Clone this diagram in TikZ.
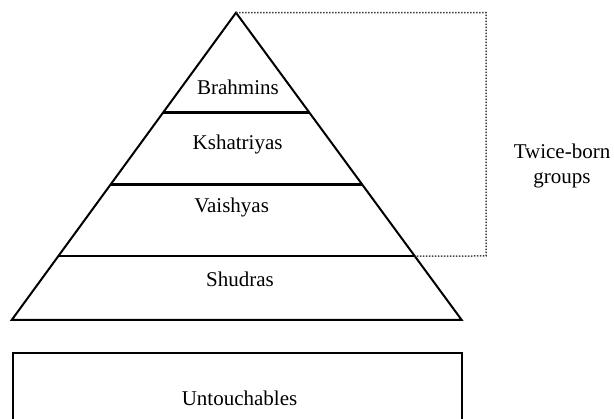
\documentclass[tikz,border=0pt]{standalone}
\usepackage{fontspec}
\setmainfont{Liberation Serif}
\usetikzlibrary{calc}
\begin{document}
\begin{tikzpicture}[x=1pt,y=-1pt,
  label/.style={inner sep=0pt,font=\fontsize{21}{24.4}\selectfont},
  edge/.style={line width=2pt,line join=miter},
  divider/.style={line width=3pt},
  thindivider/.style={line width=2pt},
  group/.style={draw=black!75,line width=1.5pt,dash pattern=on 1.5pt off 1.5pt}]
\useasboundingbox (0,0) rectangle (614,419);
% pyramid
\coordinate (apex) at (236,12.7);
\coordinate (bl) at (11.7,320);
\coordinate (br) at (461.7,320);
\draw[edge] (apex) -- (bl) -- (br) -- cycle;
% layer dividers
\coordinate (d1l) at ($(apex)!0.324!(bl)$);
\coordinate (d1r) at ($(apex)!0.324!(br)$);
\coordinate (d2l) at ($(apex)!0.5575!(bl)$);
\coordinate (d2r) at ($(apex)!0.5575!(br)$);
\coordinate (d3l) at ($(apex)!0.7918!(bl)$);
\coordinate (d3r) at ($(apex)!0.7918!(br)$);
\draw[divider] (d1l) -- (d1r);
\draw[divider] (d2l) -- (d2r);
\draw[thindivider] (d3l) -- (d3r);
% layer labels
\node[label] (brahmins) at (238,87.7) {Brahmins};
\node[label] (kshatriyas) at (237.6,144) {Kshatriyas};
\node[label] (vaishyas) at (231.6,207) {Vaishyas};
\node[label] (shudras) at (240,279) {Shudras};
% twice-born bracket
\coordinate (tbtop) at (486,12.7);
\coordinate (tbbot) at (486,256);
\draw[group] (apex) -- (tbtop) -- (tbbot) -- (d3r);
\node[label,align=center] (twiceborn) at (562,166) {Twice-born\\groups};
% untouchables box
\node[draw,line width=2pt,minimum width=449pt,minimum height=72pt,inner sep=0pt,anchor=north west] (untouch) at (12,352) {};
\node[label] (untouchlabel) at (239.5,398) {Untouchables};
\end{tikzpicture}
\end{document}
